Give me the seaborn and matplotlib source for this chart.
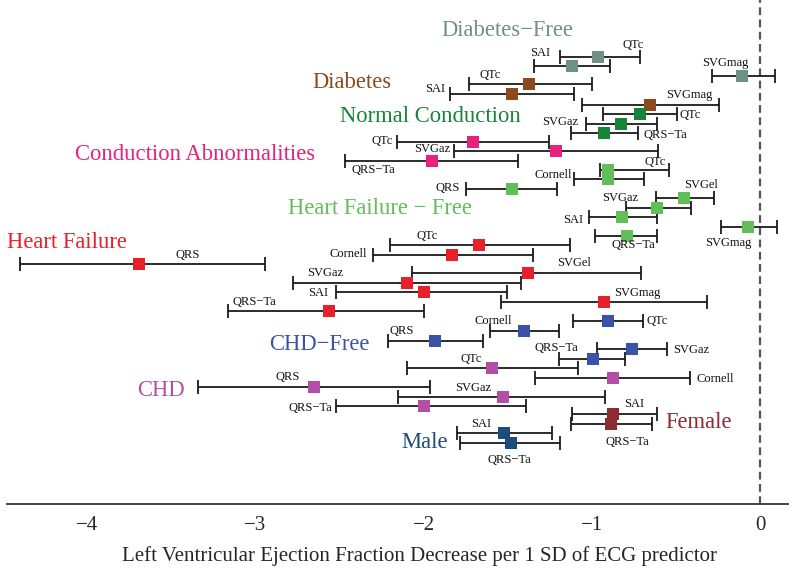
import seaborn as sns
import pandas as pd
import matplotlib.pyplot as plt

# ---- data: estimate and 95% CI per ECG predictor, per subgroup ----
diab_free_names = ["QTc", "SAI", "SVGmag"]
diab_free_est = [-0.963, -1.118, -0.107]
diab_free_lo = [-1.19, -1.344, -0.283]
diab_free_hi = [-0.714, -0.892, 0.086]
diab_free_row = [57, 66, 76]

diab_names = ["QTc", "SAI", "SVGmag"]
diab_est = [-1.373, -1.474, -0.654]
diab_lo = [-1.73, -1.843, -1.058]
diab_hi = [-0.998, -1.106, -0.244]
diab_row = [84, 94, 105]

normal_names = ["QTc", "SVGaz", "QRS−Ta"]
normal_est = [-0.713, -0.826, -0.927]
normal_lo = [-0.934, -1.035, -1.124]
normal_hi = [-0.494, -0.613, -0.725]
normal_row = [114, 124, 133]

abnorm_names = ["QTc", "SVGaz", "QRS−Ta"]
abnorm_est = [-1.706, -1.213, -1.95]
abnorm_lo = [-2.158, -1.82, -2.47]
abnorm_hi = [-1.254, -0.607, -1.441]
abnorm_row = [142, 151, 161]

hf_free_names = ["QTc", "Cornell", "QRS", "SVGel", "SVGaz", "SAI", "SVGmag", "QRS−Ta"]
hf_free_est = [-0.904, -0.904, -1.474, -0.452, -0.612, -0.820, -0.071, -0.791]
hf_free_lo = [-0.951, -1.106, -1.75, -0.618, -0.796, -1.016, -0.232, -0.981]
hf_free_hi = [-0.541, -0.690, -1.21, -0.273, -0.410, -0.612, 0.101, -0.612]
hf_free_row = [170, 179, 189, 198, 208, 217, 227, 236]

hf_names = ["QTc", "Cornell", "QRS", "SVGel", "SVGaz", "SAI", "SVGmag", "QRS−Ta"]
hf_est = [-1.67, -1.831, -3.692, -1.38, -2.10, -2.0, -0.93, -2.56]
hf_lo = [-2.199, -2.30, -4.398, -2.071, -2.776, -2.52, -1.54, -3.161]
hf_hi = [-1.129, -1.349, -2.942, -0.707, -1.421, -1.504, -0.315, -2.0]
hf_row = [245, 255, 264, 273, 283, 292, 302, 311]

chd_free_names = ["QTc", "Cornell", "QRS", "SVGaz", "QRS−Ta"]
chd_free_est = [-0.903, -1.403, -1.93, -0.761, -0.993]
chd_free_lo = [-1.11, -1.605, -2.21, -0.969, -1.195]
chd_free_hi = [-0.696, -1.195, -1.647, -0.553, -0.803]
chd_free_row = [321, 331, 341, 349, 359]

chd_names = ["QTc", "Cornell", "QRS", "SVGaz", "QRS−Ta"]
chd_est = [-1.593, -0.874, -2.65, -1.53, -2.0]
chd_lo = [-2.10, -1.34, -3.34, -2.15, -2.52]
chd_hi = [-1.082, -0.416, -1.96, -0.92, -1.39]
chd_row = [368, 378, 387, 397, 406]

female_names = ["SAI", "QRS−Ta"]
female_est = [-0.874, -0.886]
female_lo = [-1.12, -1.124]
female_hi = [-0.61, -0.642]
female_row = [414, 424]

male_names = ["SAI", "QRS−Ta"]
male_est = [-1.522, -1.48]
male_lo = [-1.80, -1.784]
male_hi = [-1.237, -1.19]
male_row = [433, 443]

groups = ["Diabetes−Free", "Diabetes", "Normal Conduction", "Conduction Abnormalities",
          "Heart Failure − Free", "Heart Failure", "CHD−Free", "CHD", "Female", "Male"]

colors = ["#6f9085", "#8c4a1e", "#17843a", "#e8207e", "#62be58",
          "#e8202a", "#3a52a8", "#b34ea6", "#8e2b30", "#1e4c7a"]

# ---- layout: where the group titles and predictor labels sit ----
title_pos = [(-1.111, 30, "right"), (-2.425, 82, "center"), (-1.961, 117, "center"),
             (-2.645, 154, "right"), (-1.712, 208, "right"), (-4.475, 243, "left"),
             (-2.621, 345, "center"), (-3.560, 391, "center"), (-0.368, 423, "center"),
             (-1.997, 442, "center")]

label_pos = [
    [(-0.755, 45), (-1.308, 53), (-0.208, 63)],
    [(-1.605, 75), (-1.932, 89), (-0.422, 95)],
    [(-0.416, 115), (-1.189, 122), (-0.565, 135)],
    [(-2.247, 141), (-1.949, 149), (-2.30, 170)],
    [(-0.624, 162), (-1.230, 175), (-1.860, 188), (-0.351, 185), (-0.832, 198),
     (-1.111, 220), (-0.190, 243), (-0.755, 245)],
    [(-1.979, 236), (-2.449, 254), (-3.40, 255), (-1.105, 263), (-2.585, 273),
     (-2.627, 293), (-0.731, 293), (-3.007, 302)],
    [(-0.612, 321), (-1.587, 321), (-2.128, 331), (-0.410, 350), (-1.212, 348)],
    [(-1.718, 359), (-0.267, 379), (-2.811, 377), (-1.706, 388), (-2.675, 408)],
    [(-0.749, 404), (-0.790, 442)],
    [(-1.658, 424), (-1.492, 460)],
]

tables = [
    (diab_free_names, diab_free_est, diab_free_lo, diab_free_hi, diab_free_row),
    (diab_names, diab_est, diab_lo, diab_hi, diab_row),
    (normal_names, normal_est, normal_lo, normal_hi, normal_row),
    (abnorm_names, abnorm_est, abnorm_lo, abnorm_hi, abnorm_row),
    (hf_free_names, hf_free_est, hf_free_lo, hf_free_hi, hf_free_row),
    (hf_names, hf_est, hf_lo, hf_hi, hf_row),
    (chd_free_names, chd_free_est, chd_free_lo, chd_free_hi, chd_free_row),
    (chd_names, chd_est, chd_lo, chd_hi, chd_row),
    (female_names, female_est, female_lo, female_hi, female_row),
    (male_names, male_est, male_lo, male_hi, male_row),
]

frames = []
for g, (n, e, lo, hi, r) in zip(groups, tables):
    frames.append(pd.DataFrame({"group": g, "predictor": n, "est": e,
                                "lo": lo, "hi": hi, "row": r}))
df = pd.concat(frames, ignore_index=True)

sns.set_style("white")
plt.rcParams["font.family"] = ["Liberation Serif", "DejaVu Serif"]

fig = plt.figure(figsize=(7.96, 5.73), dpi=100)
ax = fig.add_axes([7 / 796, 69.3 / 573, 781 / 796, 503.7 / 573])

ax.axvline(0, color="#555555", lw=1.6, ls=(0, (3.5, 2)), zorder=1)

# confidence intervals
ax.errorbar(df["est"], df["row"], xerr=[df["est"] - df["lo"], df["hi"] - df["est"]],
            fmt="none", ecolor="#1a1a1a", elinewidth=1.3, capsize=5, capthick=1.3, zorder=2)

# point estimates
sns.scatterplot(data=df, x="est", y="row", hue="group", palette=dict(zip(groups, colors)),
                marker="s", s=75, linewidth=0, legend=False, zorder=3, ax=ax)

for g, c, (tx, ty, ha), tab, lp in zip(groups, colors, title_pos, tables, label_pos):
    ax.text(tx, ty, g, color=c, fontsize=16.3, ha=ha, va="center")
    for name, (lx, ly) in zip(tab[0], lp):
        ax.text(lx, ly, name, fontsize=9, ha="center", va="center", color="#111111")

ax.set_xlim(-4.477, 0.166)
ax.set_ylim(503.7, 0)
ax.set_yticks([])
ax.set_ylabel("")
ax.set_xlabel("")
ax.set_xticks([-4, -3, -2, -1, 0])
ax.tick_params(axis="x", length=4, width=1.2, color="#444444", labelsize=15, pad=5)
for s in ["top", "left", "right"]:
    ax.spines[s].set_visible(False)
ax.spines["bottom"].set_color("#444444")
ax.spines["bottom"].set_linewidth(1.4)

fig.text(420 / 796, 1 - 556 / 573, "Left Ventricular Ejection Fraction Decrease per 1 SD of ECG predictor",
         fontsize=15, ha="center", va="center")

fig.savefig("out.png", dpi=100)
